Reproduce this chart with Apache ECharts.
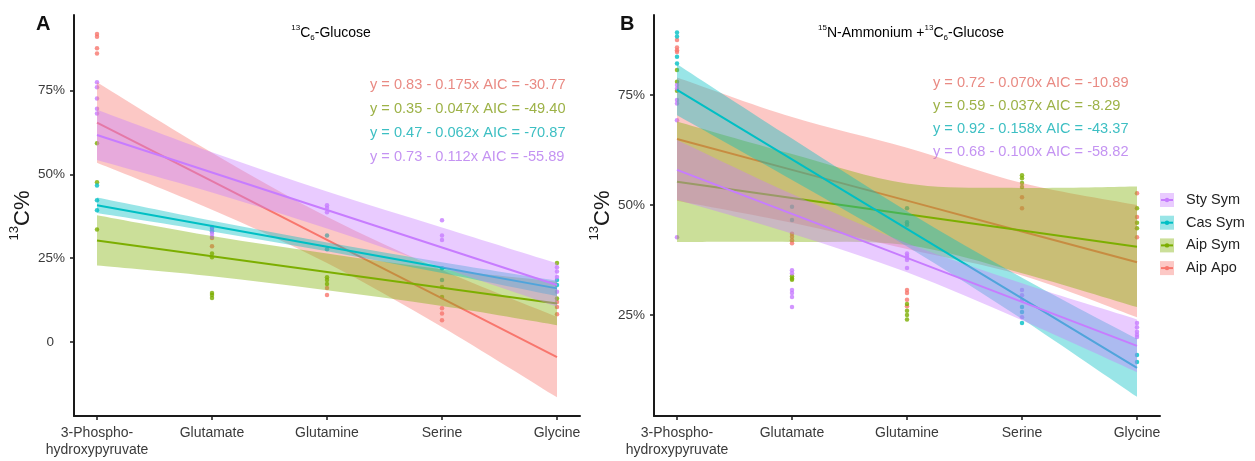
<!DOCTYPE html>
<html>
<head>
<meta charset="utf-8">
<title>13C labelling by amino acid</title>
<script src="https://cdn.jsdelivr.net/npm/echarts@6/dist/echarts.min.js"></script>
<style>
  html, body { margin: 0; padding: 0; background: #fff; }
  #chart { width: 1255px; height: 461px; }
</style>
</head>
<body>
<div id="chart"></div>
<script>
const categories = ['3-Phospho-\nhydroxypyruvate', 'Glutamate', 'Glutamine', 'Serine', 'Glycine'];
const xPos = [1, 2, 3, 4, 5];
// drawing order (ggplot factor order), legend shows the reverse
const groups = ['Aip Apo', 'Aip Sym', 'Cas Sym', 'Sty Sym'];
const legendNames = ['Sty Sym', 'Cas Sym', 'Aip Sym', 'Aip Apo'];
const groupColors = ['#F8766D', '#7CAE00', '#00BFC4', '#C77CFF'];
const eqColors = ['#E98A83', '#9DB247', '#3DBFC3', '#C493F2'];

const yTicksA = [0, 0.25, 0.5, 0.75];
const yTicksB = [0.25, 0.5, 0.75];

const eqA = ['y = 0.83 - 0.175x AIC = -30.77', 'y = 0.35 - 0.047x AIC = -49.40',
             'y = 0.47 - 0.062x AIC = -70.87', 'y = 0.73 - 0.112x AIC = -55.89'];
const eqB = ['y = 0.72 - 0.070x AIC = -10.89', 'y = 0.59 - 0.037x AIC = -8.29',
             'y = 0.92 - 0.158x AIC = -43.37', 'y = 0.68 - 0.100x AIC = -58.82'];

// ---- Panel A (13C6-Glucose) ----
// points, one list per category
const ptsA_AipApo = [[0.919, 0.911, 0.877, 0.861], [0.31, 0.286], [0.161, 0.14], [0.101, 0.085, 0.065], [0.119, 0.104, 0.083]];
const ptsA_AipSym = [[0.593, 0.477, 0.336], [0.264, 0.253, 0.146, 0.14, 0.131], [0.193, 0.185, 0.173], [0.164, 0.134], [0.236, 0.13]];
const ptsA_CasSym = [[0.467, 0.423, 0.393], [0.34, 0.33], [0.318, 0.277], [0.22, 0.185], [0.185, 0.17]];
const ptsA_StySym = [[0.775, 0.76, 0.727, 0.696, 0.682], [0.343, 0.333, 0.323, 0.313], [0.408, 0.40, 0.387], [0.363, 0.318, 0.304], [0.223, 0.21, 0.194, 0.15]];
// fitted lines and confidence bands
const fitA_AipApo = [0.655, 0.48, 0.305, 0.13, -0.045];
const loA_AipApo = [0.535, 0.395, 0.236, 0.045, -0.165];
const hiA_AipApo = [0.775, 0.565, 0.374, 0.215, 0.075];
const fitA_AipSym = [0.303, 0.256, 0.209, 0.162, 0.115];
const loA_AipSym = [0.228, 0.196, 0.154, 0.107, 0.05];
const hiA_AipSym = [0.378, 0.316, 0.264, 0.217, 0.18];
const fitA_CasSym = [0.408, 0.346, 0.284, 0.222, 0.16];
const loA_CasSym = [0.385, 0.33, 0.271, 0.206, 0.137];
const hiA_CasSym = [0.431, 0.362, 0.297, 0.238, 0.183];
const fitA_StySym = [0.618, 0.506, 0.394, 0.282, 0.17];
const loA_StySym = [0.543, 0.446, 0.339, 0.222, 0.105];
const hiA_StySym = [0.693, 0.566, 0.449, 0.342, 0.235];

// ---- Panel B (15N-Ammonium + 13C6-Glucose) ----
const ptsB_AipApo = [[0.875, 0.858, 0.852, 0.848], [0.435, 0.428, 0.42, 0.413], [0.307, 0.30, 0.285, 0.27], [0.518, 0.493], [0.527, 0.473, 0.427]];
const ptsB_AipSym = [[0.807, 0.78, 0.76], [0.338, 0.333, 0.33], [0.275, 0.26, 0.25, 0.24], [0.568, 0.561, 0.55, 0.541], [0.493, 0.447, 0.46]];
const ptsB_CasSym = [[0.892, 0.883, 0.837, 0.822], [0.496, 0.466], [0.493, 0.461, 0.455], [0.268, 0.257, 0.232], [0.159, 0.143]];
const ptsB_StySym = [[0.773, 0.765, 0.739, 0.731, 0.693, 0.427], [0.352, 0.345, 0.307, 0.30, 0.291, 0.268], [0.39, 0.385, 0.38, 0.375, 0.357], [0.307, 0.295, 0.284, 0.245], [0.232, 0.222, 0.212, 0.205, 0.20]];
const fitB_AipApo = [0.65, 0.58, 0.51, 0.44, 0.37];
const loB_AipApo = [0.51, 0.46, 0.40, 0.34, 0.245];
const hiB_AipApo = [0.79, 0.70, 0.63, 0.55, 0.50];
const fitB_AipSym = [0.553, 0.516, 0.479, 0.442, 0.405];
const loB_AipSym = [0.416, 0.416, 0.409, 0.345, 0.268];
const hiB_AipSym = [0.69, 0.616, 0.549, 0.539, 0.542];
const fitB_CasSym = [0.762, 0.604, 0.446, 0.288, 0.13];
const loB_CasSym = [0.704, 0.557, 0.406, 0.241, 0.064];
const hiB_CasSym = [0.82, 0.651, 0.486, 0.335, 0.196];
const fitB_StySym = [0.58, 0.48, 0.38, 0.28, 0.18];
const loB_StySym = [0.512, 0.435, 0.347, 0.238, 0.12];
const hiB_StySym = [0.648, 0.525, 0.413, 0.322, 0.24];

const panels = [
  { pts: [ptsA_AipApo, ptsA_AipSym, ptsA_CasSym, ptsA_StySym],
    fit: [fitA_AipApo, fitA_AipSym, fitA_CasSym, fitA_StySym],
    lo: [loA_AipApo, loA_AipSym, loA_CasSym, loA_StySym],
    hi: [hiA_AipApo, hiA_AipSym, hiA_CasSym, hiA_StySym] },
  { pts: [ptsB_AipApo, ptsB_AipSym, ptsB_CasSym, ptsB_StySym],
    fit: [fitB_AipApo, fitB_AipSym, fitB_CasSym, fitB_StySym],
    lo: [loB_AipApo, loB_AipSym, loB_CasSym, loB_StySym],
    hi: [hiB_AipApo, hiB_AipSym, hiB_CasSym, hiB_StySym] }
];

const FONT = '"Liberation Sans", Arial, Helvetica, sans-serif';
const INK = '#1a1a1a';
const LABEL = '#3a3a3a';

// catmull-rom -> bezier, through pixel points already converted by the axes
function curvePath(p) {
  let d = '';
  for (let i = 0; i < p.length - 1; i++) {
    const p0 = p[Math.max(i - 1, 0)], p1 = p[i], p2 = p[i + 1], p3 = p[Math.min(i + 2, p.length - 1)];
    const c1x = p1[0] + (p2[0] - p0[0]) / 6, c1y = p1[1] + (p2[1] - p0[1]) / 6;
    const c2x = p2[0] - (p3[0] - p1[0]) / 6, c2y = p2[1] - (p3[1] - p1[1]) / 6;
    d += ' C' + c1x + ',' + c1y + ' ' + c2x + ',' + c2y + ' ' + p2[0] + ',' + p2[1];
  }
  return d;
}

function bandSeries(name, lo, hi, color, g, z) {
  return {
    name: name, type: 'custom', xAxisIndex: g, yAxisIndex: g, z: z, silent: true,
    data: [[xPos[0], lo[0]]],
    renderItem: function (params, api) {
      const top = hi.map((v, i) => api.coord([xPos[i], v]));
      const bot = lo.map((v, i) => api.coord([xPos[i], v])).reverse();
      const d = 'M' + top[0][0] + ',' + top[0][1] + curvePath(top) +
                ' L' + bot[0][0] + ',' + bot[0][1] + curvePath(bot) + ' Z';
      return { type: 'path', shape: { pathData: d }, style: { fill: color, opacity: 0.4 } };
    }
  };
}

const series = [];
panels.forEach((p, g) => {
  groups.forEach((name, k) => {
    const data = [];
    p.pts[k].forEach((vals, i) => vals.forEach(v => data.push([xPos[i], v])));
    series.push({
      name: name, type: 'scatter', xAxisIndex: g, yAxisIndex: g, z: 1, silent: true,
      symbolSize: 4.5, itemStyle: { color: groupColors[k] }, data: data
    });
  });
  groups.forEach((name, k) => {
    series.push(bandSeries(name, p.lo[k], p.hi[k], groupColors[k], g, 2 + 2 * k));
    series.push({
      name: name, type: 'line', xAxisIndex: g, yAxisIndex: g, z: 3 + 2 * k, silent: true,
      showSymbol: false, lineStyle: { color: groupColors[k], width: 2 },
      data: p.fit[k].map((v, i) => [xPos[i], v])
    });
  });
});

function xAxis(g) {
  return {
    type: 'value', gridIndex: g, min: 0.8, max: 5.2,
    axisLine: { show: true, onZero: false, lineStyle: { color: INK, width: 2 } },
    axisTick: { show: true, length: 4, customValues: xPos, lineStyle: { color: INK, width: 1.5 } },
    axisLabel: {
      customValues: xPos, formatter: v => categories[Math.round(v) - 1],
      color: LABEL, fontSize: 14, lineHeight: 17, margin: 9, fontFamily: FONT
    },
    splitLine: { show: false }
  };
}

function yAxis(g, min, max, ticks, gap) {
  return {
    type: 'value', gridIndex: g, min: min, max: max,
    axisLine: { show: true, onZero: false, lineStyle: { color: INK, width: 2 } },
    axisTick: { show: true, length: 4, customValues: ticks, lineStyle: { color: INK, width: 1.5 } },
    axisLabel: {
      customValues: ticks, formatter: v => v === 0 ? '{z|0}' : Math.round(v * 100) + '%',
      color: LABEL, fontSize: 13.5, margin: 9, fontFamily: FONT,
      rich: { z: { fontSize: 13.5, color: LABEL, fontFamily: FONT, padding: [0, 11, 0, 0] } }
    },
    splitLine: { show: false },
    name: '{sup|13}{big|C%}', nameLocation: 'middle', nameRotate: 90, nameGap: gap,
    nameTextStyle: {
      color: INK, fontFamily: FONT,
      rich: {
        sup: { fontSize: 13, lineHeight: 12, verticalAlign: 'top', fontFamily: FONT, color: INK },
        big: { fontSize: 22, lineHeight: 26, verticalAlign: 'bottom', fontFamily: FONT, color: INK }
      }
    }
  };
}

const rich = {
  n: { fontSize: 14, lineHeight: 18, fontFamily: FONT, color: '#222' },
  sup: { fontSize: 8, lineHeight: 10, verticalAlign: 'top', fontFamily: FONT, color: '#222' },
  sub: { fontSize: 8, lineHeight: 8, verticalAlign: 'bottom', fontFamily: FONT, color: '#222' }
};

const graphics = [
  { type: 'text', left: 36, top: 14, style: { text: 'A', font: 'bold 20px ' + FONT, fill: '#111' } },
  { type: 'text', left: 620, top: 14, style: { text: 'B', font: 'bold 20px ' + FONT, fill: '#111' } },
  { type: 'text', x: 331, y: 33, style: { text: '{sup|13}{n|C}{sub|6}{n|-Glucose}', rich: rich, align: 'center', verticalAlign: 'middle' } },
  { type: 'text', x: 911, y: 33, style: { text: '{sup|15}{n|N-Ammonium +}{sup|13}{n|C}{sub|6}{n|-Glucose}', rich: rich, align: 'center', verticalAlign: 'middle' } }
];
const eqRowsA = [85, 109, 133, 157];
const eqRowsB = [83, 106, 129, 152];
eqA.forEach((t, k) => graphics.push({ type: 'text', x: 370, y: eqRowsA[k],
  style: { text: t, font: '14.6px ' + FONT, fill: eqColors[k], verticalAlign: 'middle' } }));
eqB.forEach((t, k) => graphics.push({ type: 'text', x: 933, y: eqRowsB[k],
  style: { text: t, font: '14.6px ' + FONT, fill: eqColors[k], verticalAlign: 'middle' } }));

// legend keys: light square, line and dot
legendNames.forEach((name, r) => {
  const k = groups.indexOf(name);
  const cy = 200 + r * 22.7;
  graphics.push({ type: 'rect', shape: { x: 1160, y: cy - 7, width: 14, height: 14 }, style: { fill: groupColors[k], opacity: 0.4 } });
  graphics.push({ type: 'line', shape: { x1: 1161, y1: cy, x2: 1173, y2: cy }, style: { stroke: groupColors[k], lineWidth: 2 } });
  graphics.push({ type: 'circle', shape: { cx: 1167, cy: cy, r: 2.2 }, style: { fill: groupColors[k] } });
  graphics.push({ type: 'text', x: 1186, y: cy, style: { text: name, font: '14.5px ' + FONT, fill: '#222', verticalAlign: 'middle' } });
});

const chart = echarts.init(document.getElementById('chart'));
chart.setOption({
  animation: false,
  backgroundColor: '#fff',
  grid: [
    { left: 74, top: 15, width: 506, height: 401 },
    { left: 654, top: 15, width: 506, height: 401 }
  ],
  xAxis: [xAxis(0), xAxis(1)],
  yAxis: [
    yAxis(0, -0.221, 0.976, yTicksA, 34),
    yAxis(1, 0.0205, 0.932, yTicksB, 40)
  ],
  series: series,
  graphic: graphics
});
</script>
</body>
</html>
